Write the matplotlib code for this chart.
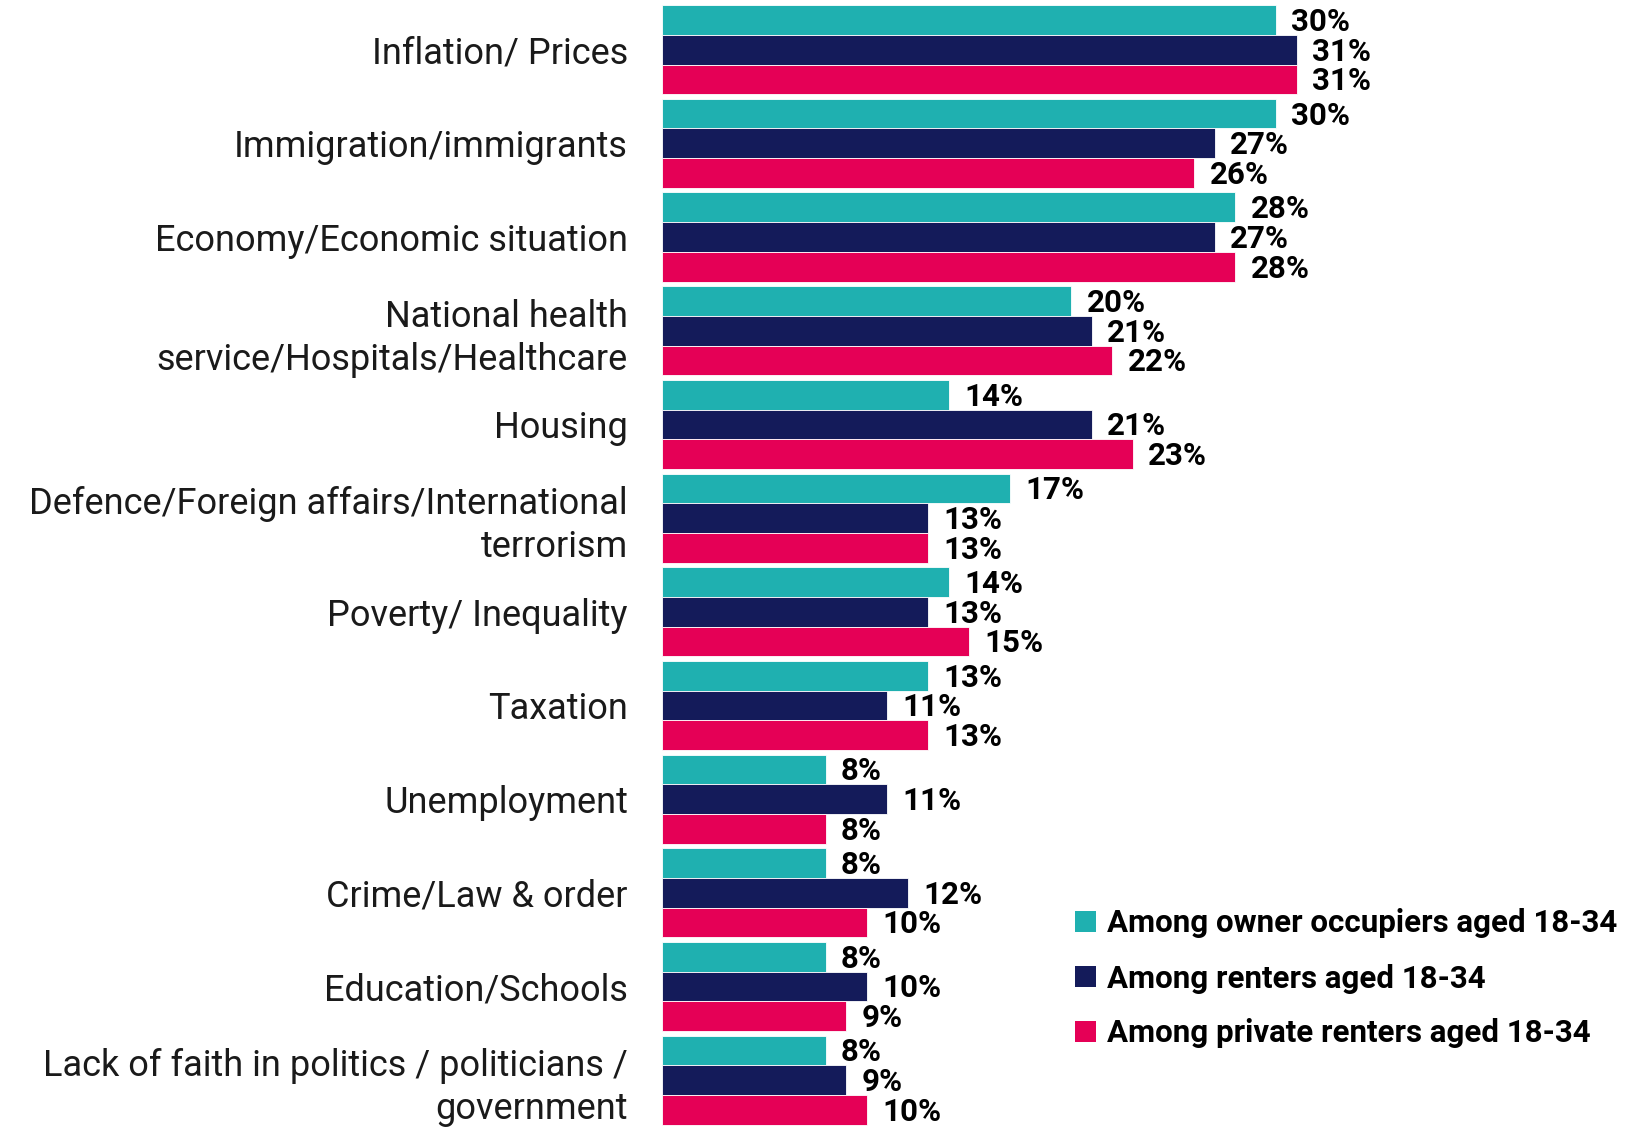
import numpy as np
import matplotlib.pyplot as plt
from matplotlib.patches import Patch

categories = [
    "Inflation/ Prices",
    "Immigration/immigrants",
    "Economy/Economic situation",
    "National health\nservice/Hospitals/Healthcare",
    "Housing",
    "Defence/Foreign affairs/International\nterrorism",
    "Poverty/ Inequality",
    "Taxation",
    "Unemployment",
    "Crime/Law & order",
    "Education/Schools",
    "Lack of faith in politics / politicians /\ngovernment",
]
owners = [30, 30, 28, 20, 14, 17, 14, 13, 8, 8, 8, 8]
renters = [31, 27, 27, 21, 21, 13, 13, 11, 11, 12, 10, 9]
private_renters = [31, 26, 28, 22, 23, 13, 15, 13, 8, 10, 9, 10]
series_names = ["Among owner occupiers aged 18-34",
                "Among renters aged 18-34",
                "Among private renters aged 18-34"]
colors = ["#1FB0B0", "#141B5A", "#E50056"]

plt.rcParams['font.family'] = ['Roboto', 'DejaVu Sans']

fig = plt.figure(figsize=(16.33, 11.27), dpi=100)
ax = fig.add_axes([662 / 1633, 0, 1 - 662 / 1633, 1])

y = np.arange(len(categories))
w = 0.317
for k, vals in enumerate([owners, renters, private_renters]):
    pos = y + (k - 1) * w
    ax.barh(pos, vals, height=w, color=colors[k], edgecolor="white", linewidth=0.6)
    for p, v in zip(pos, vals):
        ax.text(v + 0.75, p + 0.02, f"{v}%", va="center", ha="left", fontsize=22.5,
                fontweight="bold", color="black")

ax.set_ylim(11.5, -0.53)
ax.set_xlim(0, 971 / 20.47)
ax.set_yticks(y)
ax.set_yticklabels(categories, fontsize=26, color="#1a1a1a", linespacing=1.26)
ax.tick_params(axis="y", length=0, pad=24.5)
ax.set_xticks([])
for s in ax.spines.values():
    s.set_visible(False)

handles = [Patch(facecolor=c, label=n) for c, n in zip(colors, series_names)]
fig.legend(handles=handles, loc="upper left", bbox_to_anchor=(1063 / 1633, 1 - 896 / 1127),
           frameon=False, prop={"size": 22.5, "weight": "bold"}, handlelength=0.65,
           handleheight=0.65, handletextpad=0.35, labelspacing=0.8, borderaxespad=0)

fig.savefig("out.png", dpi=100)
